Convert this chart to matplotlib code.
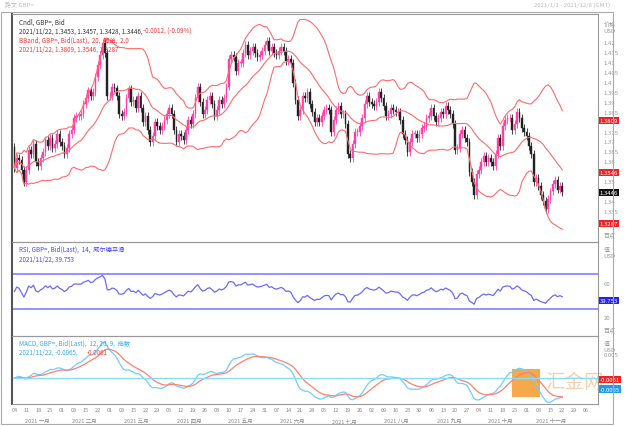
import numpy as np
import pandas as pd
import matplotlib
matplotlib.use("Agg")
import matplotlib.pyplot as plt
from matplotlib.patches import Rectangle

plt.rcParams['font.family'] = ['Noto Sans CJK SC', 'DejaVu Sans']

closes = [
 1.357,1.362,1.361,1.356,1.350,1.356,1.366,1.364,1.369,1.360,1.358,1.362,1.365,1.371,1.368,1.372,1.367,1.369,1.374,1.370,
 1.368,1.364,1.367,1.374,1.376,1.382,1.383,1.383,1.384,1.389,1.392,1.396,1.393,1.395,1.403,1.409,1.414,1.420,1.415,1.393,
 1.393,1.398,1.397,1.393,1.384,1.383,1.385,1.392,1.397,1.390,1.391,1.387,1.393,1.387,1.380,1.383,1.376,1.370,1.373,1.380,1.378,1.376,1.378,
 1.381,1.384,1.387,1.384,1.376,1.370,1.374,1.373,1.371,1.376,1.381,1.379,1.384,1.392,1.398,1.390,1.384,1.386,1.391,1.393,1.389,1.383,
 1.386,1.391,1.389,1.392,1.398,1.412,1.414,1.413,1.406,1.410,1.410,1.415,1.419,1.414,1.416,1.418,1.415,1.413,1.414,1.416,1.419,
 1.421,1.416,1.418,1.415,1.414,1.416,1.418,1.416,1.411,1.412,1.410,1.400,1.391,1.383,1.386,1.393,1.392,1.395,1.389,1.385,1.380,1.382,
 1.380,1.383,1.386,1.387,1.386,1.375,1.381,1.386,1.388,1.384,1.384,1.379,1.364,1.362,1.369,1.375,1.375,1.378,1.382,1.389,1.393,1.390,
 1.389,1.388,1.390,1.395,1.392,1.388,1.383,1.384,1.387,1.386,1.385,1.385,1.381,1.374,1.371,1.365,1.370,1.374,1.374,1.372,1.374,1.377,
 1.378,1.382,1.383,1.387,1.383,1.380,1.382,1.385,1.384,1.388,1.386,1.384,1.379,1.366,1.367,1.374,1.376,1.372,1.370,1.355,1.350,1.343,
 1.354,1.356,1.360,1.363,1.360,1.362,1.360,1.358,1.364,1.372,1.368,1.378,1.381,1.382,1.382,1.376,1.379,1.385,1.382,1.377,1.375,
 1.373,1.368,1.364,1.350,1.352,1.348,1.343,1.340,1.336,1.341,1.345,1.349,1.351,1.346,1.348,1.3446]
first_open = 1.3675
wick = 0.002
months = ['2021 一月','2021 二月','2021 三月','2021 四月','2021 五月','2021 六月',
          '2021 七月','2021 八月','2021 九月','2021 十月','2021 十一月']

c = np.array(closes)
o = np.concatenate([[first_open], c[:-1]])
h = np.maximum(o, c) + wick
l = np.minimum(o, c) - wick
n = len(c)
alldates = pd.bdate_range('2021-01-04', '2021-12-10')
x = np.arange(n)

s = pd.Series(c)
mid = s.rolling(20, min_periods=1).mean()
sd = s.rolling(20, min_periods=1).std(ddof=0)
up = mid + 2*sd; lo = mid - 2*sd
d = s.diff().fillna(0)
g = d.clip(lower=0).ewm(alpha=1/14, adjust=False).mean() + 0.0015
ls_ = (-d.clip(upper=0)).ewm(alpha=1/14, adjust=False).mean() + 0.0015
rsi = 100 - 100/(1+g/ls_)
macd = s.ewm(span=12, adjust=False).mean() - s.ewm(span=26, adjust=False).mean()
sig = macd.ewm(span=9, adjust=False).mean()

W, H = 629, 427
fig = plt.figure(figsize=(W/100, H/100), dpi=100)
fig.patch.set_facecolor('white')
def ax_at(x0, y0, x1, y1):
    return fig.add_axes([x0/W, 1-y1/H, (x1-x0)/W, (y1-y0)/H])
L, R = 12, 598
a1 = ax_at(L, 15, R, 243)
a2 = ax_at(L, 243, R, 337)
a3 = ax_at(L, 337, R, 405)
for a in (a1, a2, a3):
    a.set_xlim(-1, len(alldates))
    a.patch.set_alpha(0)
    for sp in a.spines.values():
        sp.set_color('#999999'); sp.set_linewidth(0.8)
    a.spines['left'].set_color('#555555'); a.spines['left'].set_linewidth(1.5)
    a.tick_params(left=False, right=False, bottom=False, labelleft=False, labelbottom=False, labelright=False)

for i in range(n):
    col = '#ff3fa8' if c[i] >= o[i] else '#222222'
    a1.vlines(x[i], l[i], h[i], color=col, lw=0.6)
    a1.add_patch(Rectangle((x[i]-0.35, min(o[i], c[i])), 0.7, max(abs(c[i]-o[i]), 0.0003),
                           facecolor=col, edgecolor=col, lw=0.3))
for ser in (up, mid, lo):
    a1.plot(x, ser, color='#ff6a6a', lw=0.8)
a1.set_ylim(1.3195, 1.4346)
fs = 4.5
a1.text(0.012, 0.985, 'Cndl, GBP=, Bid', transform=a1.transAxes, fontsize=fs, va='top', color='#333333')
a1.text(0.012, 0.945, '2021/11/22, 1.3453, 1.3457, 1.3428, 1.3446,', transform=a1.transAxes, fontsize=fs, va='top', color='#333333')
a1.text(0.224, 0.945, '-0.0012, (-0.09%)', transform=a1.transAxes, fontsize=fs, va='top', color='#ff3333')
a1.text(0.012, 0.905, 'BBand, GBP=, Bid(Last),  20,  简单,  2.0', transform=a1.transAxes, fontsize=fs, va='top', color='#ff3333')
a1.text(0.012, 0.865, '2021/11/22, 1.3809, 1.3546, 1.3287', transform=a1.transAxes, fontsize=fs, va='top', color='#ff3333')

a2.plot(x, rsi, color='#6a6aff', lw=0.9)
a2.axhline(70, color='#8080ff', lw=1.2); a2.axhline(30, color='#8080ff', lw=1.2)
a2.set_ylim(-2, 108)
a2.text(0.012, 0.97, 'RSI, GBP=, Bid(Last),  14,  威尔德平滑', transform=a2.transAxes, fontsize=fs, va='top', color='#4444ff')
a2.text(0.012, 0.87, '2021/11/22, 39.753', transform=a2.transAxes, fontsize=fs, va='top', color='#4444ff')

a3.plot(x, macd, color='#6ccfff', lw=0.9)
a3.plot(x, sig, color='#ff8070', lw=0.9)
a3.axhline(0, color='#88ddff', lw=1.0)
ymax = float(macd.max())*1.15
a3.set_ylim(-ymax*0.38/0.62, ymax)
a3.text(0.012, 0.96, 'MACD, GBP=, Bid(Last),  12, 26, 9,  指数', transform=a3.transAxes, fontsize=fs, va='top', color='#33aaff')
a3.text(0.012, 0.83, '2021/11/22, -0.0065,', transform=a3.transAxes, fontsize=fs, va='top', color='#33aaff')
a3.text(0.128, 0.83, '-0.0061', transform=a3.transAxes, fontsize=fs, va='top', color='#ff4444')

mondays = [i for i, dd in enumerate(alldates) if dd.weekday() == 0]
for i in mondays:
    a3.text(i, -0.05, alldates[i].strftime('%d'), transform=a3.get_xaxis_transform(),
            fontsize=4, ha='center', va='top', color='#888888')
for m in range(1, 12):
    idx = [i for i, dd in enumerate(alldates) if dd.month == m]
    a3.text(np.mean(idx), -0.2, months[m-1], transform=a3.get_xaxis_transform(),
            fontsize=4, ha='center', va='top', color='#888888')

boxes = [(1.3809, '1.3809', '#ee2222'), (1.3546, '1.3546', '#ee2222'),
         (1.3287, '1.3287', '#ee2222'), (1.3446, '1.3446', '#111111')]
for v in np.arange(1.33, 1.4201, 0.005):
    v = round(v, 3)
    if any(abs(v - b[0]) < 0.0035 for b in boxes):
        continue
    a1.text(1.01, v, '%g' % v, transform=a1.get_yaxis_transform(), fontsize=4.3, va='center', color='#999999')
a1.text(1.01, 0.97, '价格\nUSD', transform=a1.transAxes, fontsize=4.3, va='top', color='#999999')
for val, txt, fc in boxes:
    a1.text(1.003, val, txt, transform=a1.get_yaxis_transform(), fontsize=4.3, va='center',
            color='white', bbox=dict(boxstyle='square,pad=0.2', fc=fc, ec='none'))
a1.text(1.01, 0.02, '百点', transform=a1.transAxes, fontsize=4.3, va='bottom', color='#999999')
a2.text(1.01, 0.95, '值\nUSD', transform=a2.transAxes, fontsize=4.3, va='top', color='#999999')
for v in (60, 20):
    a2.text(1.01, v, str(v), transform=a2.get_yaxis_transform(), fontsize=4.3, va='center', color='#999999')
a2.text(1.003, 39.753, '39.753', transform=a2.get_yaxis_transform(), fontsize=4.3, va='center',
        color='white', bbox=dict(boxstyle='square,pad=0.2', fc='#2222ee', ec='none'))
a2.text(1.01, 0.04, '百点', transform=a2.transAxes, fontsize=4.3, va='bottom', color='#999999')
a3.text(1.01, 0.93, '值\nUSD\n0.005', transform=a3.transAxes, fontsize=4.3, va='top', color='#999999')
a3.text(1.003, 0.36, '-0.0061', transform=a3.transAxes, fontsize=4.3, va='center',
        color='white', bbox=dict(boxstyle='square,pad=0.2', fc='#ee2222', ec='none'))
a3.text(1.003, 0.22, '-0.0065', transform=a3.transAxes, fontsize=4.3, va='center',
        color='white', bbox=dict(boxstyle='square,pad=0.2', fc='#2299ee', ec='none'))

fig.text(5/W, 1-5/H, '路文 GBP=', fontsize=4.3, color='#bbbbbb', va='center')
fig.text(610/W, 1-5/H, '2021/1/1 - 2021/12/8 (GMT)', fontsize=4.3, color='#bbbbbb', va='center', ha='right')
fig.add_artist(Rectangle((512/W, 1-398/H), 28/W, 28/H, transform=fig.transFigure, fc='#f39a2a', ec='none', alpha=0.85, zorder=-1))
fig.text(545/W, 1-383/H, '汇金网', fontsize=14, color='#f0c8a0', va='center', alpha=0.85, zorder=-1)
fig.add_artist(Rectangle((0.8/W, 1-425/H), 612/W, 412/H, transform=fig.transFigure,
                         fill=False, ec='#aaaaaa', lw=0.8))
fig.savefig('out.png', dpi=100)
